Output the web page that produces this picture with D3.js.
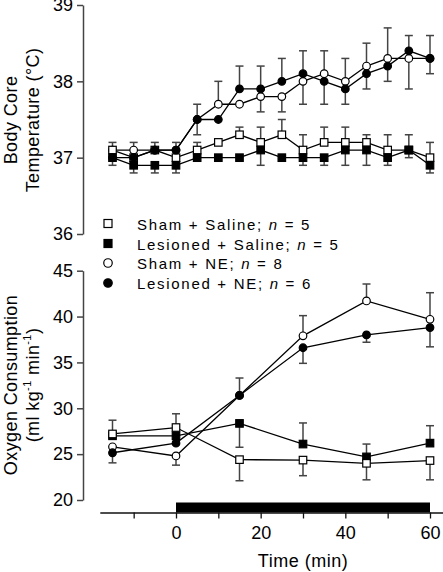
<!DOCTYPE html>
<html><head><meta charset="utf-8">
<script src="https://cdn.jsdelivr.net/npm/d3@7"></script>
<style>body{margin:0;background:#fff}svg{display:block}text{font-family:"Liberation Sans",Arial,sans-serif}</style>
</head><body><svg id="c" width="443" height="572"></svg>
<script>
// ---- data ----
const timeT = [-15,-10,-5,0,5,10,15,20,25,30,35,40,45,50,55,60];
const timeO = [-15,0,15,30,45,60];
const seriesNames = ["Sham + Saline", "Lesioned + Saline", "Sham + NE", "Lesioned + NE"];
const seriesN = [5,5,8,6];
const shamSalT   = [37.1,37.0,37.1,37.0,37.1,37.2,37.3,37.2,37.3,37.1,37.2,37.2,37.2,37.1,37.1,37.0];
const shamSalTUp = [0.1,0,0,0,0.1,0,0.1,0.2,0.2,0.2,0.2,0.2,0.1,0.2,0.2,0.2];
const shamSalTDn = [0,0,0,0,0,0,0,0,0,0,0,0,0,0,0,0];
const lesSalT    = [37.0,36.9,36.9,36.9,37.0,37.0,37.0,37.1,37.0,37.0,37.0,37.1,37.1,37.0,37.1,36.9];
const lesSalTUp  = [0,0,0,0,0,0,0,0,0,0,0,0,0,0,0,0];
const lesSalTDn  = [0.1,0.1,0.1,0.1,0,0,0,0.2,0,0.1,0.1,0.2,0.2,0.1,0.1,0.1];
const shamNET    = [37.1,37.1,37.1,37.1,37.5,37.7,37.7,37.8,37.8,38.0,38.1,38.0,38.2,38.3,38.3,38.3];
const shamNETUp  = [0,0.1,0,0,0,0.3,0,0,0,0,0.3,0.3,0.3,0.4,0,0];
const shamNETDn  = [0,0,0,0,0.2,0,0,0.2,0.2,0.3,0,0,0,0,0.4,0.2];
const lesNET     = [37.0,37.0,37.1,37.1,37.5,37.5,37.9,37.9,38.0,38.1,38.0,37.9,38.1,38.2,38.4,38.3];
const lesNETUp   = [0,0,0.1,0.1,0.2,0,0.3,0.3,0.3,0.3,0,0,0,0,0.2,0.3];
const lesNETDn   = [0,0,0,0,0,0,0,0,0,0,0.3,0.2,0.2,0.2,0,0];

const shamSalO   = [27.2,27.9,24.4,24.35,24.0,24.3];
const shamSalOUp = [1.5,1.5,0,0,0,0];
const shamSalODn = [0,0,2.3,1.7,1.8,2.1];
const lesSalO    = [27.0,27.0,28.35,26.1,24.7,26.2];
const lesSalOUp  = [0,0,0,2.3,1.4,1.9];
const lesSalODn  = [0,0,2.6,0,0,0];
const shamNEO    = [25.8,24.8,31.4,37.9,41.7,39.7];
const shamNEOUp  = [0,0,0,2.2,1.85,2.9];
const shamNEODn  = [0,1.0,0,0,0,0];
const lesNEO     = [25.15,26.2,31.4,36.6,38.0,38.8];
const lesNEOUp   = [0,0,1.9,0,0,0];
const lesNEODn   = [1.1,0,0,1.7,0.8,2.1];

const tempTicks = [36,37,38,39];
const oxyTicks = [20,25,30,35,40,45];
const timeTicks = [-10,0,10,20,30,40,50,60];
const timeLabels = [0,20,40,60];
const infusion = [0,60];

// ---- layout ----
const svg = d3.select("#c");
const axX = 83;
const x = d3.scaleLinear().domain([-18,63]).range([176-18*4.2333, 176+63*4.2333]);
const yT = d3.scaleLinear().domain([36,39]).range([234,5]);
const yO = d3.scaleLinear().domain([20,45]).range([500,270.7]);
const axisCol = "#444";

function styleAxis(g){
  g.select(".domain").attr("stroke",axisCol).attr("stroke-width",1.5);
  g.selectAll(".tick line").attr("stroke",axisCol).attr("stroke-width",1.5);
  g.selectAll(".tick text").attr("font-size",18).attr("fill","#000").attr("font-family","Liberation Sans, Arial, sans-serif");
}
const gT = svg.append("g").attr("transform",`translate(${axX},0)`)
  .call(d3.axisLeft(yT).tickValues(tempTicks).tickSize(6).tickSizeOuter(0).tickPadding(4).tickFormat(d3.format("d")));
styleAxis(gT);
const gO = svg.append("g").attr("transform",`translate(${axX},0)`)
  .call(d3.axisLeft(yO).tickValues(oxyTicks).tickSize(6).tickSizeOuter(0).tickPadding(4).tickFormat(d3.format("d")));
styleAxis(gO);

// infusion bar
const axY = 512.5;
svg.append("rect").attr("x",x(infusion[0])).attr("y",axY-10).attr("width",x(infusion[1])-x(infusion[0])).attr("height",10).attr("fill","#000");
const gX = svg.append("g").attr("transform",`translate(0,${axY})`)
  .call(d3.axisBottom(x).tickValues(timeTicks).tickSize(6).tickSizeOuter(0).tickPadding(8)
    .tickFormat(d => timeLabels.includes(d) ? d : ""));
gX.select(".domain").attr("stroke","#111").attr("stroke-width",1.5);
gX.selectAll(".tick line").attr("stroke","#111").attr("stroke-width",1.3);
gX.selectAll(".tick text").attr("font-size",18).attr("fill","#000");

svg.append("text").attr("x",x(30)).attr("y",567).attr("text-anchor","middle")
  .attr("font-size",18).attr("letter-spacing",0.5).text("Time (min)");

// y titles
function ytitle(cx, cy, build){
  const t = svg.append("text").attr("transform",`translate(${cx},${cy}) rotate(-90)`)
    .attr("text-anchor","middle").attr("dominant-baseline","central").attr("font-size",18).attr("letter-spacing",0.4);
  build(t);
}
ytitle(11,120,t=>t.text("Body Core"));
ytitle(33,120,t=>t.text("Temperature (°C)"));
ytitle(11,385,t=>t.text("Oxygen Consumption"));
ytitle(33,385,t=>{
  t.append("tspan").text("(ml kg");
  t.append("tspan").attr("baseline-shift","super").attr("font-size",11).text("-1");
  t.append("tspan").text(" min");
  t.append("tspan").attr("baseline-shift","super").attr("font-size",11).text("-1");
  t.append("tspan").text(")");
});

// series drawing
const styles = [
  {shape:"square", fill:"#fff"},
  {shape:"square", fill:"#000"},
  {shape:"circle", fill:"#fff"},
  {shape:"circle", fill:"#000"}
];
function marker(g, shape, fill, cx, cy, s){
  if(shape==="square"){
    g.append("rect").attr("x",cx-s/2).attr("y",cy-s/2).attr("width",s).attr("height",s)
      .attr("fill",fill).attr("stroke","#000").attr("stroke-width",1.2);
  } else {
    g.append("circle").attr("cx",cx).attr("cy",cy).attr("r",s/2)
      .attr("fill",fill).attr("stroke","#000").attr("stroke-width",1.2);
  }
}
function panel(times, y, sets, order){
  const ge = svg.append("g"), gl = svg.append("g"), gm = svg.append("g");
  sets.forEach(s=>{
    times.forEach((t,i)=>{
      [[s.up[i],1],[s.dn[i],-1]].forEach(([e,dir])=>{
        if(e>0){
          const y0=y(s.v[i]), y1=y(s.v[i]+dir*e);
          ge.append("line").attr("x1",x(t)).attr("x2",x(t)).attr("y1",y0).attr("y2",y1).attr("stroke",axisCol).attr("stroke-width",1.5);
          ge.append("line").attr("x1",x(t)-4).attr("x2",x(t)+4).attr("y1",y1).attr("y2",y1).attr("stroke",axisCol).attr("stroke-width",1.5);
        }
      });
    });
    gl.append("path").datum(times.map((t,i)=>[x(t),y(s.v[i])]))
      .attr("d",d3.line()).attr("fill","none").attr("stroke","#000").attr("stroke-width",1.3);
  });
  order.forEach(k=>{
    const s=sets[k], st=styles[k];
    times.forEach((t,i)=>marker(gm,st.shape,st.fill,x(t),y(s.v[i]),st.shape==="square"?7.5:7.6));
  });
}
panel(timeT, yT, [
  {v:shamSalT,up:shamSalTUp,dn:shamSalTDn},
  {v:lesSalT,up:lesSalTUp,dn:lesSalTDn},
  {v:shamNET,up:shamNETUp,dn:shamNETDn},
  {v:lesNET,up:lesNETUp,dn:lesNETDn}
],[2,0,3,1]);
panel(timeO, yO, [
  {v:shamSalO,up:shamSalOUp,dn:shamSalODn},
  {v:lesSalO,up:lesSalOUp,dn:lesSalODn},
  {v:shamNEO,up:shamNEOUp,dn:shamNEODn},
  {v:lesNEO,up:lesNEOUp,dn:lesNEODn}
],[2,3,1,0]);

// legend
const legY = [223.5,243.5,263,283];
const gLeg = svg.append("g");
seriesNames.forEach((nm,i)=>{
  const st=styles[i];
  marker(gLeg, st.shape, st.fill, 108, legY[i], st.shape==="square"?8:8.5);
  const t = gLeg.append("text").attr("x",137).attr("y",legY[i]).attr("dominant-baseline","central")
    .attr("font-size",15).attr("letter-spacing",1.7);
  t.append("tspan").text(nm+"; ");
  t.append("tspan").attr("font-style","italic").text("n");
  t.append("tspan").text(" = "+seriesN[i]);
});
</script></body></html>
